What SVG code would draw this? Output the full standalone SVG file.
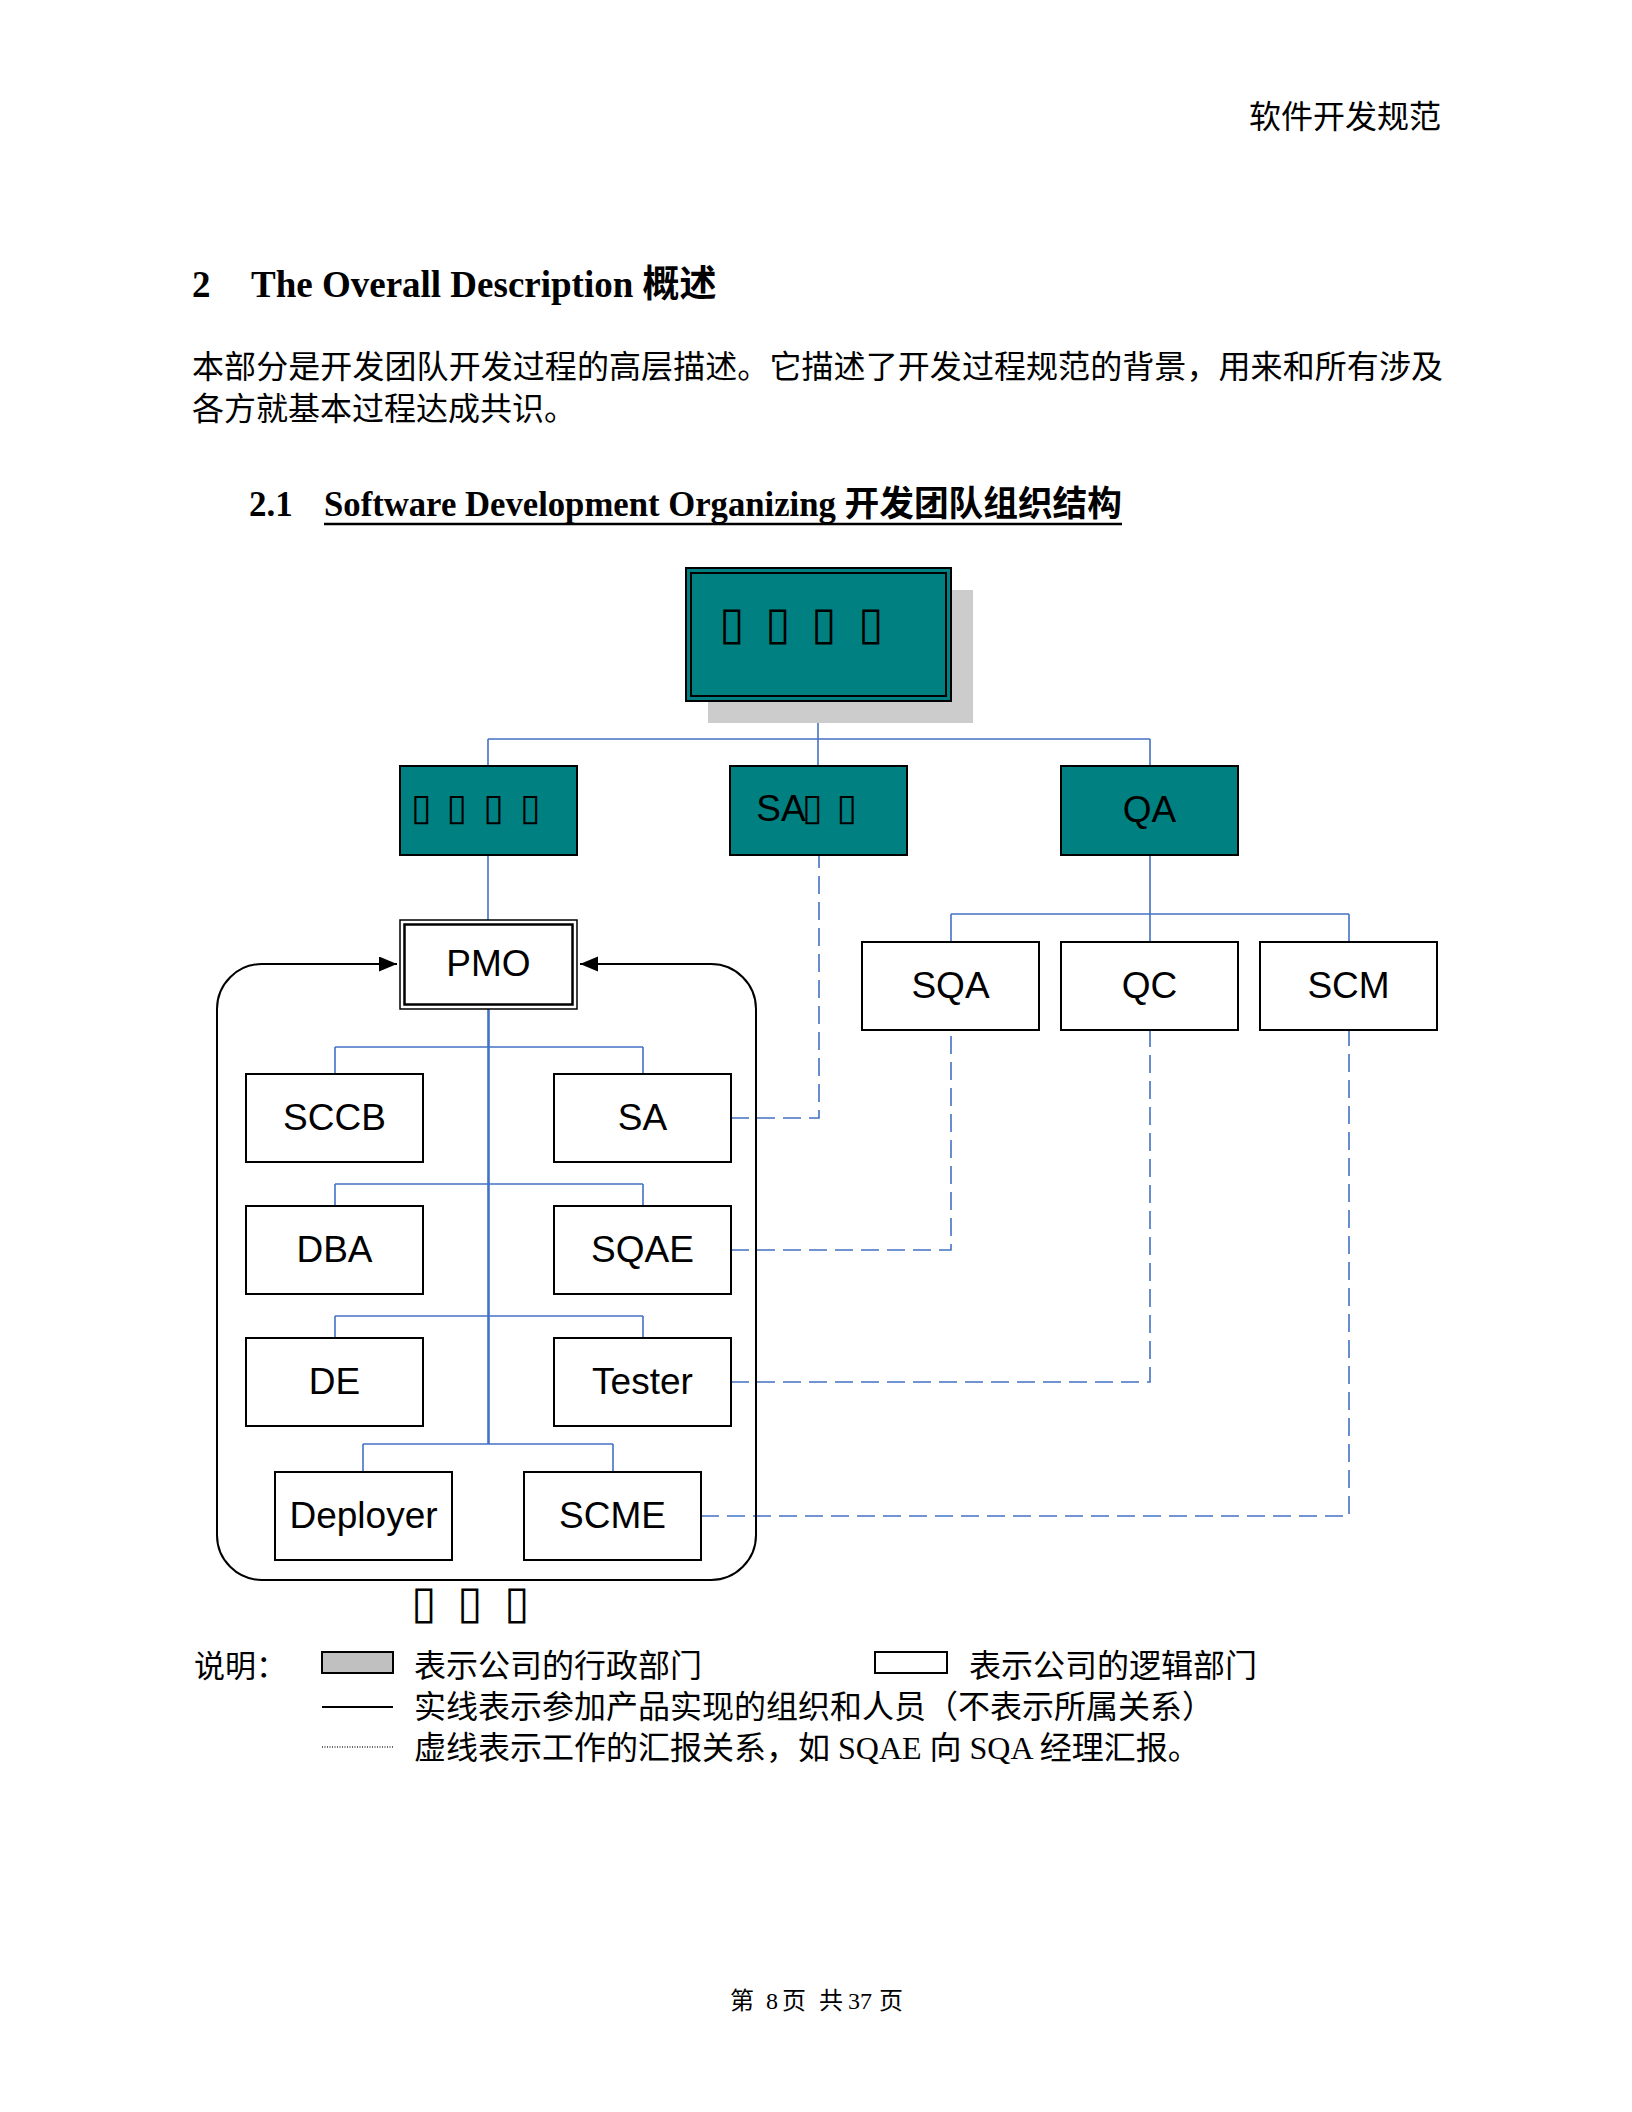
<svg xmlns="http://www.w3.org/2000/svg" width="1632" height="2112" viewBox="0 0 1632 2112">
<style>
.page{font-family:"Liberation Serif","Noto Sans CJK SC",serif;fill:#000}
.node{font-family:"Liberation Sans",Arial,sans-serif;font-size:37px;fill:#000;text-anchor:middle}
.tofu{font-family:"DejaVu Sans",sans-serif;fill:#000;text-anchor:middle}
.teal{fill:#008080;stroke:#000;stroke-width:2}
.box{fill:#fff;stroke:#000;stroke-width:2}
.link{fill:none;stroke:#4472C4;stroke-width:1.6}
.trunk{fill:none;stroke:#4472C4;stroke-width:2.6}
.dash{fill:none;stroke:#4472C4;stroke-width:1.6;stroke-dasharray:18 8}
</style>
<defs>
<marker id="arr" markerUnits="userSpaceOnUse" markerWidth="18" markerHeight="16" refX="18" refY="7.5" orient="auto-start-reverse">
<path d="M0,0 L18,7.5 L0,15 z" fill="#000"/>
</marker>
</defs>
<rect width="1632" height="2112" fill="#fff"/>

<!-- page text -->
<text class="page" x="1441" y="128" font-size="32" text-anchor="end">软件开发规范</text>
<text class="page" x="192" y="297" font-size="37" font-weight="bold">2</text>
<text class="page" x="251" y="297" font-size="37" font-weight="bold">The Overall Description 概述</text>
<text class="page" x="192" y="378" font-size="32" textLength="1251" lengthAdjust="spacing">本部分是开发团队开发过程的高层描述。它描述了开发过程规范的背景，用来和所有涉及</text>
<text class="page" x="192" y="420" font-size="32">各方就基本过程达成共识。</text>
<text class="page" x="249" y="516" font-size="35" font-weight="bold">2.1</text>
<text class="page" x="324" y="516" font-size="35" font-weight="bold" textLength="798" lengthAdjust="spacingAndGlyphs">Software Development Organizing 开发团队组织结构</text>
<line x1="324" y1="524" x2="1122" y2="524" stroke="#000" stroke-width="2.5"/>

<!-- connectors -->
<g id="connectors">
<path class="link" d="M818,701 V766"/>
<path class="link" d="M488,739 H1150 M488,739 V766 M1150,739 V766"/>
<path class="link" d="M488,855 V920"/>
<path class="link" d="M1150,855 V942 M951,914 H1349 M951,914 V942 M1349,914 V942"/>
<path class="trunk" d="M488.5,1009 V1444"/>
<path class="link" d="M335,1047 H643 M335,1047 V1074 M643,1047 V1074"/>
<path class="link" d="M335,1184 H643 M335,1184 V1206 M643,1184 V1206"/>
<path class="link" d="M335,1316 H643 M335,1316 V1338 M643,1316 V1338"/>
<path class="link" d="M363,1444 H613 M363,1444 V1472 M613,1444 V1472"/>
<path class="dash" d="M731,1118 H819 V855"/>
<path class="dash" d="M731,1250 H951 V1030"/>
<path class="dash" d="M731,1382 H1150 V1030"/>
<path class="dash" d="M701,1516 H1349 V1030"/>
<path d="M397,964 L262,964 A45,45 0 0 0 217,1009 L217,1535 A45,45 0 0 0 262,1580 L711,1580 A45,45 0 0 0 756,1535 L756,1009 A45,45 0 0 0 711,964 L580,964" fill="none" stroke="#000" stroke-width="2" marker-start="url(#arr)" marker-end="url(#arr)"/>
</g>

<!-- nodes -->
<g id="top">
<rect x="708" y="590" width="265" height="133" fill="#CCCCCC"/>
<rect x="686" y="568" width="265" height="133" class="teal"/>
<rect x="691" y="573" width="255" height="123" fill="none" stroke="#000" stroke-width="2"/>
<text class="tofu" font-size="46"><tspan x="732" y="639">▯</tspan><tspan x="778" y="639">▯</tspan><tspan x="824" y="639">▯</tspan><tspan x="871" y="639">▯</tspan></text>
</g>
<g id="dev">
<rect x="400" y="766" width="177" height="89" class="teal"/>
<text class="tofu" font-size="37"><tspan x="421.5" y="820">▯</tspan><tspan x="457" y="820">▯</tspan><tspan x="493.6" y="820">▯</tspan><tspan x="530.4" y="820">▯</tspan></text>
</g>
<g id="sa-top">
<rect x="730" y="766" width="177" height="89" class="teal"/>
<text class="node" x="781" y="821">SA<tspan class="tofu" x="812.5" y="820">▯</tspan><tspan class="tofu" x="847" y="820">▯</tspan></text>
</g>
<g id="qa">
<rect x="1061" y="766" width="177" height="89" class="teal"/>
<text class="node" x="1149.5" y="822">QA</text>
</g>
<g id="pmo">
<rect x="400" y="920" width="177" height="89" fill="#fff" stroke="#000" stroke-width="1.5"/>
<rect x="404.5" y="924.5" width="168" height="80" fill="none" stroke="#000" stroke-width="2.5"/>
<text class="node" x="488.5" y="976">PMO</text>
</g>
<g id="sqa"><rect x="862" y="942" width="177" height="88" class="box"/><text class="node" x="950.5" y="998">SQA</text></g>
<g id="qc"><rect x="1061" y="942" width="177" height="88" class="box"/><text class="node" x="1149.5" y="998">QC</text></g>
<g id="scm"><rect x="1260" y="942" width="177" height="88" class="box"/><text class="node" x="1348.5" y="998">SCM</text></g>
<g id="sccb"><rect x="246" y="1074" width="177" height="88" class="box"/><text class="node" x="334.5" y="1130">SCCB</text></g>
<g id="sa"><rect x="554" y="1074" width="177" height="88" class="box"/><text class="node" x="642.5" y="1130">SA</text></g>
<g id="dba"><rect x="246" y="1206" width="177" height="88" class="box"/><text class="node" x="334.5" y="1262">DBA</text></g>
<g id="sqae"><rect x="554" y="1206" width="177" height="88" class="box"/><text class="node" x="642.5" y="1262">SQAE</text></g>
<g id="de"><rect x="246" y="1338" width="177" height="88" class="box"/><text class="node" x="334.5" y="1394">DE</text></g>
<g id="tester"><rect x="554" y="1338" width="177" height="88" class="box"/><text class="node" x="642.5" y="1394">Tester</text></g>
<g id="deployer"><rect x="275" y="1472" width="177" height="88" class="box"/><text class="node" x="363.5" y="1528">Deployer</text></g>
<g id="scme"><rect x="524" y="1472" width="177" height="88" class="box"/><text class="node" x="612.5" y="1528">SCME</text></g>
<g id="group-label">
<text class="tofu" font-size="46"><tspan x="424" y="1618">▯</tspan><tspan x="470" y="1618">▯</tspan><tspan x="517" y="1618">▯</tspan></text>
</g>

<!-- legend -->
<g id="legend">
<text class="page" x="194" y="1677" font-size="31">说明：</text>
<rect x="322" y="1652" width="71" height="21" fill="#C0C0C0" stroke="#000" stroke-width="2"/>
<text class="page" x="414" y="1677" font-size="32">表示公司的行政部门</text>
<rect x="875" y="1652" width="72" height="21" fill="#fff" stroke="#000" stroke-width="2"/>
<text class="page" x="969" y="1677" font-size="32">表示公司的逻辑部门</text>
<line x1="322" y1="1707" x2="393" y2="1707" stroke="#000" stroke-width="2"/>
<text class="page" x="414" y="1718" font-size="32">实线表示参加产品实现的组织和人员（不表示所属关系）</text>
<line x1="322" y1="1747" x2="393" y2="1747" stroke="#333" stroke-width="1.5" stroke-dasharray="1 1.5"/>
<text class="page" x="414" y="1759" font-size="32">虚线表示工作的汇报关系，如 SQAE 向 SQA 经理汇报。</text>
</g>

<text class="page" font-size="24"><tspan x="730" y="2009">第</tspan><tspan x="766" y="2009">8</tspan><tspan x="782" y="2009">页</tspan><tspan x="819" y="2009">共</tspan><tspan x="848" y="2009">37</tspan><tspan x="879" y="2009">页</tspan></text>
</svg>
